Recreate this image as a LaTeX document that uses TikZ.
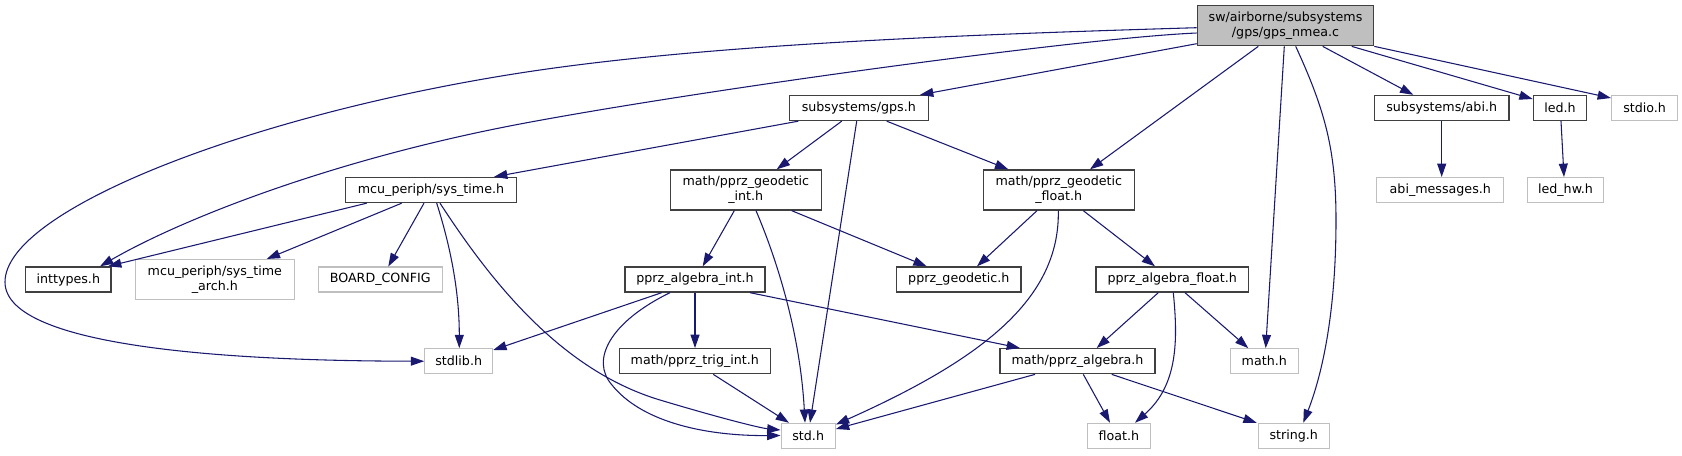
\documentclass[tikz,border=0pt]{standalone}
\usepackage{fontspec}
\newfontfamily\dvs{DejaVu Sans}
\usetikzlibrary{arrows.meta,calc}
\definecolor{edgec}{HTML}{191970}
\definecolor{bdark}{HTML}{404040}
\definecolor{blight}{HTML}{BFBFBF}
\definecolor{mainfill}{HTML}{BFBFBF}
\begin{document}
\begin{tikzpicture}[x=0.75pt,y=-0.75pt,
  base/.style={rectangle, inner sep=0pt, align=center, font={\dvs\fontsize{9.5}{11.25}\selectfont}},
  blk/.style={base, draw=bdark, line width=1pt},
  gry/.style={base, draw=blight, line width=0.8pt},
  sz/.style 2 args={minimum width=#1*0.75pt, minimum height=#2*0.75pt},
  e/.style={draw=edgec, line width=0.8pt, -{Triangle[length=10pt,width=6.7pt]}}]
\useasboundingbox (0,0) rectangle (1682,455);
\fill[white] (0,0) rectangle (1682,455);
% nodes
\node[blk, fill=mainfill, sz={176.3}{40}] (main) at (1285.5,25.7) {sw/airborne/subsystems\\/gps/gps\_nmea.c};
\node[blk, sz={139}{25}] (gps) at (858.8,108) {subsystems/gps.h};
\node[blk, sz={134.7}{25}] (abi) at (1441.7,108) {subsystems/abi.h};
\node[blk, sz={53.3}{25}] (led) at (1560,108) {led.h};
\node[gry, sz={66.2}{25}] (stdio) at (1644.6,108) {stdio.h};
\node[blk, sz={170.7}{25}] (systime) at (431,190) {mcu\_periph/sys\_time.h};
\node[blk, sz={151}{40}] (geoint) at (745.8,190) {math/pprz\_geodetic\\\_int.h};
\node[blk, sz={151}{40}] (geofloat) at (1058.8,190) {math/pprz\_geodetic\\\_float.h};
\node[gry, sz={126.7}{25}] (abimsg) at (1440.3,190) {abi\_messages.h};
\node[gry, sz={76.5}{25}] (ledhw) at (1565.5,190) {led\_hw.h};
\node[blk, sz={85.3}{25}] (inttypes) at (68.3,279.5) {inttypes.h};
\node[gry, sz={159}{40}] (sysarch) at (214.8,279.5) {mcu\_periph/sys\_time\\\_arch.h};
\node[gry, sz={124}{25}] (board) at (380.3,279.5) {BOARD\_CONFIG};
\node[blk, sz={140}{25}] (algint) at (695,279.5) {pprz\_algebra\_int.h};
\node[blk, sz={124.3}{25}] (geodetic) at (958.8,279.5) {pprz\_geodetic.h};
\node[blk, sz={152.3}{25}] (algfloat) at (1172.2,279.5) {pprz\_algebra\_float.h};
\node[gry, sz={68}{25}] (stdlib) at (458.7,361.2) {stdlib.h};
\node[blk, sz={151}{25}] (trig) at (694.8,361.2) {math/pprz\_trig\_int.h};
\node[blk, sz={155}{25}] (alg) at (1077.5,361.2) {math/pprz\_algebra.h};
\node[gry, sz={68}{25}] (math) at (1264.3,361.2) {math.h};
\node[gry, sz={54.3}{25}] (std) at (808.2,435.8) {std.h};
\node[gry, sz={63}{25}] (float) at (1118.8,435.8) {float.h};
\node[gry, sz={70.7}{25}] (string) at (1293.7,435.8) {string.h};
% edges from main
\draw[e] (main.west |- 0,27.7) .. controls (950,35) and (700,45) .. (520,73) .. controls (250,115) and (5,210) .. (5,282) .. controls (5,350) and (250,361) .. (stdlib.west);
\draw[e] (main.west |- 0,33) .. controls (1080,38) and (700,90) .. (520,124) .. controls (330,160) and (180,220) .. (inttypes.north -| 100,0);
\draw[e] (main.west |- 0,43.7) -- (gps.north -| 920,0);
\draw[e] (main.south -| 1258.3,0) -- (geofloat.north -| 1090,0);
\draw[e] (main.south -| 1284.3,0) -- (math.north -| 1265.7,0);
\draw[e] (main.south -| 1295.7,0) .. controls (1325,110) and (1336,150) .. (1336,220) .. controls (1336,320) and (1320,380) .. (string.north -| 1303.3,0);
\draw[e] (main.south -| 1322.7,0) -- (abi.north -| 1413.3,0);
\draw[e] (main.south -| 1351.7,0) -- (led.west |- 0,99);
\draw[e] (main.south east) -- (stdio.west |- 0,98);
% gps.h
\draw[e] (gps.south -| 798.3,0) -- (systime.north -| 494,0);
\draw[e] (gps.south -| 841.7,0) -- (geoint.north -| 776.7,0);
\draw[e] (gps.south -| 856.7,0) -- (std.north -| 810,0);
\draw[e] (gps.south -| 886.7,0) -- (geofloat.north -| 1008.3,0);
% sys_time.h
\draw[e] (systime.south -| 366.7,0) -- (inttypes.north -| 108,0);
\draw[e] (systime.south -| 401.7,0) -- (sysarch.north -| 266.7,0);
\draw[e] (systime.south -| 424,0) -- (board.north -| 388.3,0);
\draw[e] (systime.south -| 436.7,0) .. controls (450,245) and (459.3,290) .. (stdlib.north -| 459.3,0);
\draw[e] (systime.south -| 440,0) .. controls (490,280) and (560,370) .. (660,400) .. controls (720,418) and (760,428) .. (std.west |- 0,430);
% geodetic_int
\draw[e] (geoint.south -| 734.3,0) -- (algint.north -| 702.7,0);
\draw[e] (geoint.south -| 756,0) .. controls (775,255) and (800,330) .. (std.north -| 805,0);
\draw[e] (geoint.south -| 791.7,0) -- (geodetic.north -| 926.7,0);
% geodetic_float
\draw[e] (geofloat.south -| 1037,0) -- (geodetic.north -| 977,0);
\draw[e] (geofloat.south -| 1058.3,0) .. controls (1060,300) and (980,360) .. (std.east |- 0,424.5);
\draw[e] (geofloat.south -| 1083.3,0) -- (algfloat.north -| 1155,0);
% pprz_algebra_int
\draw[e] (algint.south -| 661.7,0) -- (stdlib.east |- 0,350);
\draw[e] (algint.south -| 670,0) .. controls (610,322) and (590,360) .. (612,385) .. controls (640,420) and (700,436) .. (std.west |- 0,435.5);
\draw[e] (algint.south -| 695,0) -- (trig.north -| 695,0);
\draw[e] (algint.south -| 750,0) -- (alg.north -| 1020,0);
\draw[e] (trig.south -| 713.3,0) -- (std.north -| 789,0);
% pprz_algebra_float
\draw[e] (algfloat.south -| 1158.3,0) -- (alg.north -| 1096.7,0);
\draw[e] (algfloat.south -| 1173.3,0) .. controls (1178,340) and (1178,385) .. (float.north -| 1135,0);
\draw[e] (algfloat.south -| 1185,0) -- (math.north -| 1248.3,0);
% pprz_algebra
\draw[e] (alg.south -| 1035,0) -- (std.east |- 0,429);
\draw[e] (alg.south -| 1083.3,0) -- (float.north -| 1110,0);
\draw[e] (alg.south -| 1111.7,0) -- (string.north -| 1256.7,0);
% abi, led
\draw[e] (abi.south) -- (abi.south |- abimsg.north);
\draw[e] (led.south -| 1561,0) -- (ledhw.north -| 1564,0);
\end{tikzpicture}
\end{document}
